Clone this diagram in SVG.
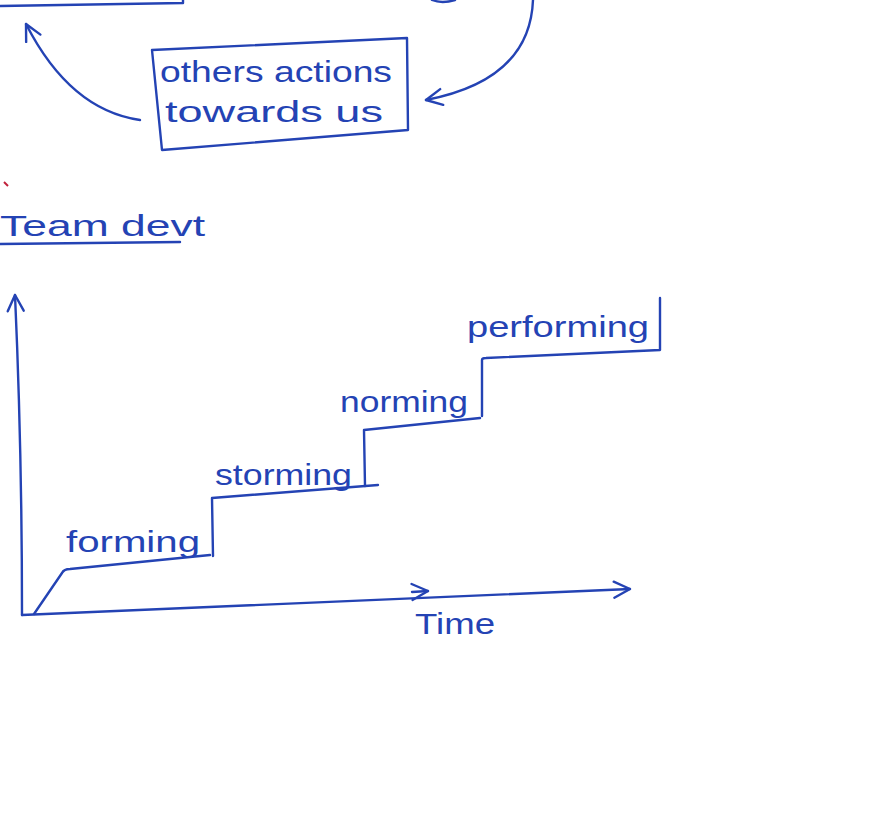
<svg xmlns="http://www.w3.org/2000/svg" width="880" height="820" viewBox="0 0 880 820">
<style>
.ink{fill:none;stroke:#2443b4;stroke-width:2.4;stroke-linecap:round;stroke-linejoin:round}
.t{font-family:"Liberation Sans","DejaVu Sans",sans-serif;fill:#2443b4;font-size:30px}
</style>
<defs>
<marker id="ah" viewBox="0 0 20 20" refX="18" refY="10" markerWidth="20" markerHeight="20" markerUnits="userSpaceOnUse" orient="auto">
<path d="M2,2 L18,10 L2,18" fill="none" stroke="#2443b4" stroke-width="2.4" stroke-linecap="round" stroke-linejoin="round"/>
</marker>
</defs>
<rect width="880" height="820" fill="#ffffff"/>
<g id="top-fragment">
<path class="ink" d="M0,6 L183,3 L183,0"/>
<path class="ink" d="M432,0 Q442,4 455,0"/>
</g>
<g id="others-actions">
<path class="ink" d="M152,50 L407,38 L408,130 L162,150 Z"/>
<text class="t" x="160" y="82" font-size="32" textLength="232" lengthAdjust="spacingAndGlyphs">others actions</text>
<text class="t" x="165" y="122" font-size="32" textLength="218" lengthAdjust="spacingAndGlyphs">towards us</text>
</g>
<g id="title">
<path d="M4,182 L8,186" stroke="#c0203a" stroke-width="2" fill="none"/>
<text class="t" x="0" y="236" font-size="36" textLength="205" lengthAdjust="spacingAndGlyphs">Team devt</text>
<path class="ink" d="M0,244 L180,242" stroke-width="2"/>
</g>
<g id="steps">
<path class="ink" d="M34,614 L62,573 Q64,569 70,569 L210,555"/>
<path class="ink" d="M213,556 L212,498 L378,485"/>
<path class="ink" d="M365,486 L364,430 L480,418"/>
<path class="ink" d="M482,416 L482,360 Q482,358 486,358 L660,350 L660,298"/>
</g>
<g id="labels">
<text class="t" x="66" y="552" textLength="134" lengthAdjust="spacingAndGlyphs">forming</text>
<text class="t" x="215" y="485" textLength="137" lengthAdjust="spacingAndGlyphs">storming</text>
<text class="t" x="340" y="412" textLength="128" lengthAdjust="spacingAndGlyphs">norming</text>
<text class="t" x="467" y="337" textLength="182" lengthAdjust="spacingAndGlyphs">performing</text>
<text class="t" x="415" y="634" textLength="80" lengthAdjust="spacingAndGlyphs">Time</text>
</g>
<g id="connectors">
<path class="ink" d="M22,615 Q22,450 15,295" marker-end="url(#ah)"/>
<path class="ink" d="M22,615 L630,589" marker-end="url(#ah)"/>
<path class="ink" d="M412,592 L428,591" marker-end="url(#ah)" stroke-width="1.8"/>
<path class="ink" d="M140,120 Q70,110 26,24" marker-end="url(#ah)"/>
<path class="ink" d="M533,0 Q530,80 426,100" marker-end="url(#ah)"/>
</g>
</svg>
